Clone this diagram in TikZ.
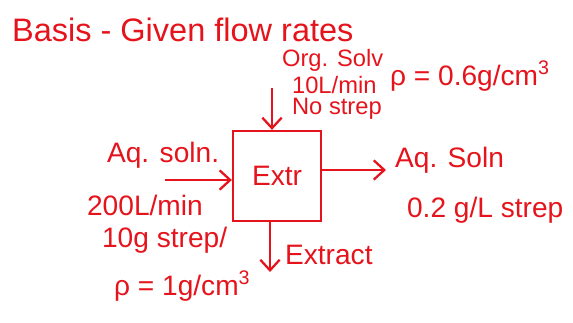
\documentclass[tikz,border=0pt]{standalone}
\usepackage{fontspec}
\setmainfont{Liberation Sans}
\usetikzlibrary{positioning,calc,arrows.meta}
\definecolor{inkRed}{HTML}{E5141C}
\tikzset{
  hand text/.style={
    text=inkRed, font=\fontsize{16}{18}\selectfont,
    inner sep=1pt, anchor=west,
  },
  small hand/.style={
    hand text, font=\fontsize{13.5}{15}\selectfont,
  },
  unit box/.style={
    rectangle, draw=inkRed, line width=1.3pt,
    minimum width=1.76cm, minimum height=1.8cm,
    text=inkRed, font=\fontsize{16}{18}\selectfont,
  },
  flow arrow/.style={
    -{Straight Barb[length=6pt, width=11pt]},
    line width=1.3pt, color=inkRed,
  },
}

\begin{document}
\begin{tikzpicture}[x=0.02cm, y=-0.02cm]
\useasboundingbox (0,0) rectangle (573,322);

% --- TITLE ---
\node[hand text, font=\fontsize{18.5}{20}\selectfont] (basis) at (10,30) {Basis - Given flow rates};

% --- EXTRACTOR ---
\node[unit box] (extr) at (277,176) {Extr};

% --- ORGANIC FEED (top) ---
\node[small hand] (orgsolv) at (280,60) {Org. Solv};
\node[small hand] (orgflow) at (290,85) {10L/min};
\node[small hand] (orgstrep) at (290,109) {No strep};
\node[hand text] (orgrho) at (388,76) {ρ = 0.6g/cm\textsuperscript{3}};
\coordinate (orgin) at (272,88);
\draw[flow arrow] (orgin) -- (orgin |- extr.north);

% --- AQUEOUS FEED (left) ---
\node[hand text] (aqsoln) at (105,155) {Aq. soln.};
\node[hand text] (aqflow) at (85,205) {200L/min};
\node[hand text] (aqstrep) at (100,240) {10g strep/};
\node[hand text] (aqrho) at (112,286) {ρ = 1g/cm\textsuperscript{3}};
\coordinate (aqin) at (165,180);
\draw[flow arrow] (aqin) -- (aqin -| extr.west);

% --- RAFFINATE (right) ---
\coordinate (rafout) at (386,170);
\draw[flow arrow] (extr.east |- rafout) -- (rafout);
\node[hand text] (rafsoln) at (393,160) {Aq. Soln};
\node[hand text] (rafconc) at (405,210) {0.2 g/L strep};

% --- EXTRACT (bottom) ---
\coordinate (extout) at (270,272);
\draw[flow arrow] (extout |- extr.south) -- (extout);
\node[hand text] (extract) at (283,255) {Extract};

\end{tikzpicture}
\end{document}
